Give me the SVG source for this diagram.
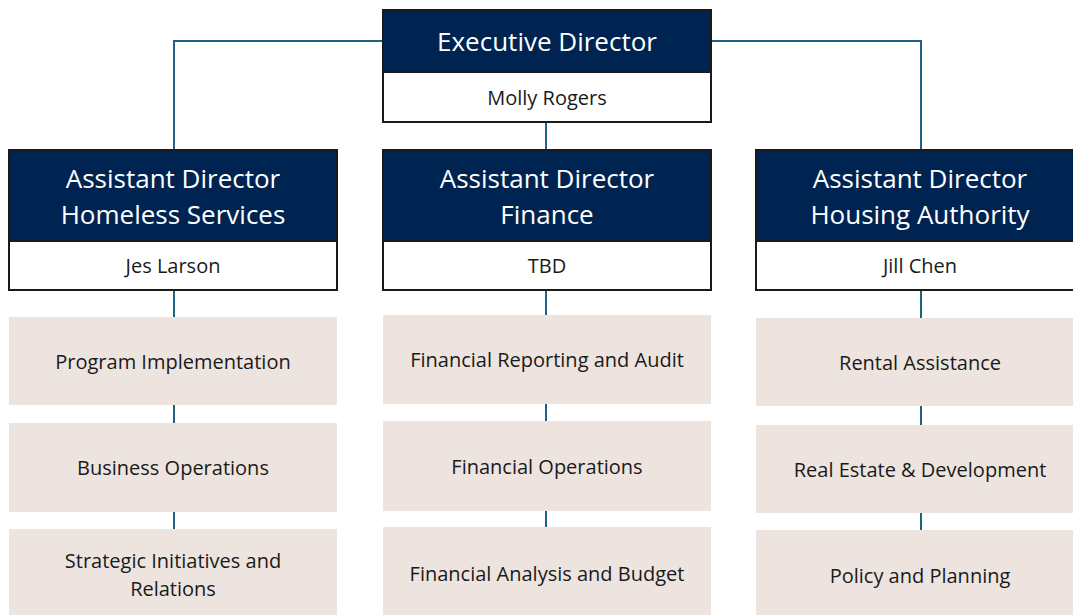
<svg xmlns="http://www.w3.org/2000/svg" width="1073" height="615" viewBox="0 0 1073 615">
<style>
.hd{fill:#002451;stroke:#1a1a1a;stroke-width:2}
.nm{fill:#ffffff;stroke:#1a1a1a;stroke-width:2}
.sb{fill:#ede4df}
.ht{font-family:"Open Sans",Lato,sans-serif;font-size:26px;fill:#ffffff;text-anchor:middle}
.nt{font-family:"Open Sans",Lato,sans-serif;font-size:20px;fill:#1a1a1a;text-anchor:middle}
.st{font-family:"Open Sans",Lato,sans-serif;font-size:20px;fill:#1a1a1a;text-anchor:middle}
.cn{fill:none;stroke:#1f6185;stroke-width:2}
</style>
<rect width="1073" height="615" fill="#ffffff"/>
<g id="connectors">
<path class="cn" d="M383 41 H174 V150"/>
<path class="cn" d="M711 41 H921 V150"/>
<path class="cn" d="M546 122 V150"/>
<path class="cn" d="M174 290 V317 M174 405 V423 M174 512 V529"/>
<path class="cn" d="M546 290 V315 M546 404 V421 M546 511 V527"/>
<path class="cn" d="M921 290 V318 M921 406 V425 M921 513 V530"/>
</g>
<g id="exec">
<rect class="hd" x="383" y="10" width="328" height="62"/>
<rect class="nm" x="383" y="72" width="328" height="50"/>
<text class="ht" x="547" y="51">Executive Director</text>
<text class="nt" x="547" y="105">Molly Rogers</text>
</g>
<g id="ad-homeless">
<rect class="hd" x="9" y="150" width="328" height="91"/>
<rect class="nm" x="9" y="241" width="328" height="49"/>
<text class="ht" x="173" y="188">Assistant Director</text>
<text class="ht" x="173" y="224">Homeless Services</text>
<text class="nt" x="173" y="273">Jes Larson</text>
</g>
<g id="ad-finance">
<rect class="hd" x="383" y="150" width="328" height="91"/>
<rect class="nm" x="383" y="241" width="328" height="49"/>
<text class="ht" x="547" y="188">Assistant Director</text>
<text class="ht" x="547" y="224">Finance</text>
<text class="nt" x="547" y="273">TBD</text>
</g>
<g id="ad-housing">
<rect class="hd" x="756" y="150" width="328" height="91"/>
<rect class="nm" x="756" y="241" width="328" height="49"/>
<text class="ht" x="920" y="188">Assistant Director</text>
<text class="ht" x="920" y="224">Housing Authority</text>
<text class="nt" x="920" y="273">Jill Chen</text>
</g>
<g id="program-implementation">
<rect class="sb" x="9" y="317" width="328" height="88"/>
<text class="st" x="173" y="369">Program Implementation</text>
</g>
<g id="business-operations">
<rect class="sb" x="9" y="423" width="328" height="89"/>
<text class="st" x="173" y="475">Business Operations</text>
</g>
<g id="strategic-initiatives">
<rect class="sb" x="9" y="529" width="328" height="92"/>
<text class="st" x="173" y="568">Strategic Initiatives and</text>
<text class="st" x="173" y="596">Relations</text>
</g>
<g id="financial-reporting">
<rect class="sb" x="383" y="315" width="328" height="89"/>
<text class="st" x="547" y="367">Financial Reporting and Audit</text>
</g>
<g id="financial-operations">
<rect class="sb" x="383" y="421" width="328" height="90"/>
<text class="st" x="547" y="474">Financial Operations</text>
</g>
<g id="financial-analysis">
<rect class="sb" x="383" y="527" width="328" height="92"/>
<text class="st" x="547" y="581">Financial Analysis and Budget</text>
</g>
<g id="rental-assistance">
<rect class="sb" x="756" y="318" width="328" height="88"/>
<text class="st" x="920" y="370">Rental Assistance</text>
</g>
<g id="real-estate">
<rect class="sb" x="756" y="425" width="328" height="88"/>
<text class="st" x="920" y="477">Real Estate &amp; Development</text>
</g>
<g id="policy-planning">
<rect class="sb" x="756" y="530" width="328" height="92"/>
<text class="st" x="920" y="583">Policy and Planning</text>
</g>
</svg>
